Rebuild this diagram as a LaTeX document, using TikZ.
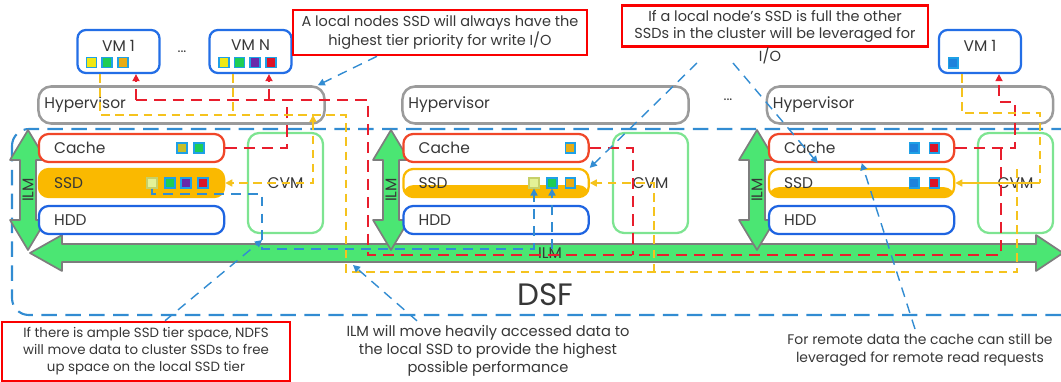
\documentclass[tikz,border=0pt]{standalone}
\usepackage{fontspec}
\setmainfont{Poppins}
\usetikzlibrary{calc,arrows.meta}

\begin{document}
\begin{tikzpicture}[x=0.025cm, y=-0.025cm]
  % Definir colores
  \definecolor{vmblue}{RGB}{35,110,230}
  \definecolor{cachered}{RGB}{240,70,40}
  \definecolor{ssdorange}{RGB}{250,185,0}
  \definecolor{hddblue}{RGB}{30,100,225}
  \definecolor{cvmgreen}{RGB}{125,228,145}
  \definecolor{hypgray}{RGB}{155,155,155}
  \definecolor{arrowgreen}{RGB}{75,230,115}
  \definecolor{arrowgray}{RGB}{125,125,125}
  \definecolor{dsfblue}{RGB}{50,140,210}
  \definecolor{writered}{RGB}{232,30,45}
  \definecolor{readyellow}{RGB}{245,195,30}
  \definecolor{notered}{RGB}{250,0,0}
  \definecolor{txtgray}{RGB}{55,55,55}
  \definecolor{sqborder}{RGB}{30,160,230}
  \definecolor{sqyellow}{RGB}{240,232,20}
  \definecolor{sqgreen}{RGB}{30,205,85}
  \definecolor{sqorange}{RGB}{232,172,20}
  \definecolor{sqolive}{RGB}{200,190,40}
  \definecolor{sqpurple}{RGB}{105,40,170}
  \definecolor{sqred}{RGB}{220,20,40}
  \definecolor{sqblue}{RGB}{30,130,220}
  \definecolor{sqfaded}{RGB}{228,242,150}

  % Configurar estilo de nodos
  \tikzset{
    vm/.style={draw=vmblue, line width=1.6pt, rounded corners=6pt, fill=white, minimum width=2.05cm, minimum height=1.075cm, text depth=0.3cm, text=txtgray, font=\fontsize{11}{13}\selectfont},
    hyp/.style={draw=hypgray, line width=1.8pt, rounded corners=9pt, minimum height=0.925cm, text width=6.85cm, inner xsep=0.15cm, align=left, text=txtgray, font=\fontsize{11}{13}\selectfont},
    tier/.style={rounded corners=7pt, line width=1.6pt, fill=white, minimum height=0.7cm, text width=3.87cm, inner xsep=0.38cm, align=left, text=txtgray, font=\fontsize{11}{13}\selectfont},
    cvm/.style={draw=cvmgreen, line width=1.6pt, rounded corners=8pt, minimum width=1.875cm, minimum height=2.5cm, text=txtgray, font=\fontsize{11}{13}\selectfont},
    sq/.style={draw=sqborder, line width=1pt, minimum size=0.24cm, inner sep=0pt},
    note/.style={draw=notered, line width=1.8pt, align=center, text=txtgray, font=\fontsize{10.3}{12.2}\selectfont},
    plain/.style={align=center, text=txtgray, font=\fontsize{10.4}{12.6}\selectfont},
    bigarrow/.style={fill=arrowgreen, draw=arrowgray, line width=1.2pt, line join=round},
    ilmtxt/.style={text=txtgray, font=\fontsize{11}{13}\selectfont},
    wr/.style={draw=writered, line width=1.1pt, dash pattern=on 8pt off 5pt},
    rd/.style={draw=readyellow, line width=1pt, dash pattern=on 6pt off 4pt},
    bl/.style={draw=dsfblue, line width=1pt, dash pattern=on 7pt off 5pt},
    tip/.style={-{Triangle[length=5pt,width=5pt]}}
  }

  \useasboundingbox (0,0) rectangle (1061,382);
  \clip (0,0) rectangle (1061,382);

  % Zona DSF
  \draw[dsfblue, line width=1.5pt, dash pattern=on 11pt off 6pt, rounded corners=12pt] (12,129) rectangle (1090,315);
  \node[text=txtgray, font=\fontsize{22}{26}\selectfont] (dsf) at (545,295) {DSF};

  % Flechas ILM
  \filldraw[bigarrow] (30,253) -- (62,235) -- (62,244) -- (1036,244) -- (1036,235) -- (1063,253) -- (1036,271) -- (1036,262) -- (62,262) -- (62,271) -- cycle;
  \filldraw[bigarrow] (28,130) -- ++(18,30) -- ++(-10,0) -- ++(0,60) -- ++(10,0) -- ++(-18,30) -- ++(-18,-30) -- ++(10,0) -- ++(0,-60) -- ++(-10,0) -- cycle;
  \filldraw[bigarrow] (391,130) -- ++(18,30) -- ++(-10,0) -- ++(0,60) -- ++(10,0) -- ++(-18,30) -- ++(-18,-30) -- ++(10,0) -- ++(0,-60) -- ++(-10,0) -- cycle;
  \filldraw[bigarrow] (757,130) -- ++(18,30) -- ++(-10,0) -- ++(0,60) -- ++(10,0) -- ++(-18,30) -- ++(-18,-30) -- ++(10,0) -- ++(0,-60) -- ++(-10,0) -- cycle;
  \node[ilmtxt, rotate=90] (ilmA) at (28,190) {ILM};
  \node[ilmtxt, rotate=90] (ilmB) at (391,190) {ILM};
  \node[ilmtxt, rotate=90] (ilmC) at (757,190) {ILM};
  \node[ilmtxt] (ilmH) at (550,253) {ILM};

  % Maquinas virtuales
  \node[vm] (vmA) at (118.5,51.5) {VM 1};
  \node[vm] (vmN) at (250.5,51.5) {VM N};
  \node[vm] (vmR) at (980,51.5) {VM 1};
  \node[text=txtgray] (dotsA) at (182,52) {...};

  % Hipervisores
  \node[hyp] (hypA) at (181.5,105) {Hypervisor};
  \node[hyp] (hypB) at (545.5,105) {Hypervisor};
  \node[hyp] (hypC) at (910,105) {Hypervisor};
  \node[text=txtgray] (dotsB) at (728,100) {...};

  % Niveles de almacenamiento
  \node[tier, draw=cachered] (cacheA) at (131.5,148) {Cache};
  \node[tier, draw=ssdorange, fill=ssdorange] (ssdA) at (131.5,183) {SSD};
  \node[tier, draw=hddblue] (hddA) at (131.5,220) {HDD};
  \node[tier, draw=cachered] (cacheB) at (496,148) {Cache};
  \node[tier, draw=ssdorange, path picture={\fill[ssdorange] ([yshift=-1.5pt]path picture bounding box.west) rectangle (path picture bounding box.south east);}] (ssdB) at (496,183) {SSD};
  \node[tier, draw=hddblue] (hddB) at (496,220) {HDD};
  \node[tier, draw=cachered] (cacheC) at (861.5,148) {Cache};
  \node[tier, draw=ssdorange, path picture={\fill[ssdorange] ([yshift=-3pt]path picture bounding box.west) rectangle (path picture bounding box.south east);}] (ssdC) at (861.5,183) {SSD};
  \node[tier, draw=hddblue] (hddC) at (861.5,220) {HDD};

  % CVM
  \node[cvm] (cvmA) at (285.5,183) {CVM};
  \node[cvm] (cvmB) at (650.5,183) {CVM};
  \node[cvm] (cvmC) at (1015.5,183) {CVM};

  % Escrituras (rojo)
  \coordinate (wA) at (136,100);
  \coordinate (wN) at (269,100);
  \coordinate (wL) at (287,100);
  \coordinate (rA) at (368,100);
  \coordinate (rB) at (368,255);
  \coordinate (rC) at (1001,255);
  \coordinate (rD) at (1015,102);
  \coordinate (rE) at (633,255);
  \draw[wr, tip, writered] (wA) -- (wA |- vmA.south);
  \draw[wr, tip, writered] (wN) -- (wN |- vmN.south);
  \draw[wr] (wA) -- (rA) -- (rB) -- (rC) -- (rC |- cacheC.east);
  \draw[wr] (cacheA.east) -| (wL);
  \draw[wr] (cacheB.east) -| (rE);
  \draw[wr, tip, writered] (cacheC.east) -| (rD) -| ($(vmR.south)+(19,0)$);

  % Lecturas (amarillo)
  \coordinate (yA) at (100,115);
  \coordinate (yN) at (233,115);
  \coordinate (yB) at (346,115);
  \coordinate (yC) at (346,272);
  \coordinate (yD) at (1017,272);
  \coordinate (yE) at (1017,167);
  \coordinate (yU) at (313,115);
  \coordinate (yF) at (654,272);
  \coordinate (yR) at (962,113);
  \coordinate (yG) at (1040,113);
  \draw[rd] (vmA.south -| yA) -- (yA) -- (yB) -- (yC) -- (yD) -- (yE);
  \draw[rd] (vmN.south -| yN) -- (yN);
  \draw[rd, readyellow, {Triangle[length=5pt,width=5pt]}-{Triangle[length=5pt,width=5pt]}] (yU) -- (yU |- ssdA.east) -- (ssdA.east);
  \draw[rd, tip, readyellow] (yF) -- (yF |- ssdB.east) -- (ssdB.east);
  \draw[rd] (vmR.south -| yR) -- (yR) -- (yG) -- (yG |- ssdC.east);
  \draw[readyellow, line width=1pt, tip] (yG |- ssdC.east) -- (ssdC.east);

  % Bloques de datos
  \node[sq, fill=sqyellow] (vA1) at (91.5,62.5) {};
  \node[sq, fill=sqgreen] (vA2) at (107,62.5) {};
  \node[sq, fill=sqorange] (vA3) at (123,62.5) {};
  \node[sq, fill=sqyellow] (vN1) at (224,62.5) {};
  \node[sq, fill=sqgreen] (vN2) at (239.5,62.5) {};
  \node[sq, fill=sqpurple] (vN3) at (255,62.5) {};
  \node[sq, fill=sqred] (vN4) at (271,62.5) {};
  \node[sq, fill=sqblue] (vR1) at (953,63) {};
  \node[sq, fill=sqolive] (cA1) at (182,148) {};
  \node[sq, fill=sqgreen] (cA2) at (199,148) {};
  \node[sq, draw=sqfaded!70!olive, fill=sqfaded] (sA1) at (152,183) {};
  \node[sq, fill=sqgreen] (sA2) at (170,183) {};
  \node[sq, fill=sqpurple] (sA3) at (186,183) {};
  \node[sq, fill=sqred] (sA4) at (203,183) {};
  \node[sq, fill=sqorange] (cB1) at (570,148) {};
  \node[sq, draw=sqfaded!70!olive, fill=sqfaded] (sB1) at (534,183) {};
  \node[sq, fill=sqgreen] (sB2) at (552,183) {};
  \node[sq, fill=sqorange] (sB3) at (570,183) {};
  \node[sq, fill=sqblue] (cC1) at (914,148) {};
  \node[sq, fill=sqred] (cC2) at (934,148) {};
  \node[sq, fill=sqblue] (sC1) at (914,183) {};
  \node[sq, fill=sqred] (sC2) at (934,183) {};

  % Movimiento ILM (azul)
  \coordinate (bA) at (262,194);
  \coordinate (bB) at (262,249);
  \draw[bl, tip, dsfblue] (sA1.south) |- (bA) -- (bB) -| (sB1.south);
  \draw[bl, tip, dsfblue] (bB -| sB2.south) -- (sB2.south);

  % Notas
  \node[note, minimum width=7.35cm, minimum height=1.125cm] (note1) at (440,32.5) {A local nodes SSD will always have the\\highest tier priority for write I/O};
  \node[note, minimum width=7.65cm, minimum height=0.95cm] (note2) at (775,26) {If a local node's SSD is full the other\\SSDs in the cluster will be leveraged for};
  \node[plain] (note2b) at (770,56) {I/O};
  \node[note, font=\fontsize{9.5}{12}\selectfont, minimum width=7.2cm, minimum height=1.475cm] (note3) at (146,351.5) {If there is ample SSD tier space, NDFS\\will move data to cluster SSDs to free\\up space on the local SSD tier};
  \node[plain] (note4) at (488,351) {ILM will move heavily accessed data to\\the local SSD to provide the highest\\possible performance};
  \node[plain, font=\fontsize{9.9}{12.6}\selectfont] (note5) at (920,350) {For remote data the cache can still be\\leveraged for remote read requests};

  % Lineas de las notas
  \coordinate (n2a) at (697,63);
  \coordinate (n2b) at (733,63);
  \coordinate (nT) at (353,265);
  \draw[bl, tip, dsfblue] ($(note1.south)+(-63,0)$) -- ($(hypA.north east)+(-8,0)$);
  \draw[bl, tip, dsfblue] (n2a) -- (ssdB.north east);
  \draw[bl, tip, dsfblue] (n2b) -- ($(cacheC.south west)+(50,0)$);
  \draw[bl, tip, dsfblue] ($(note3.north)+(19,0)$) -- ($(bB)+(0,-9)$);
  \draw[bl, tip, dsfblue] ($(note4.north)+(-71,0)$) -- (nT);
  \draw[bl, tip, dsfblue] ($(note5.north)+(-5,0)$) -- ($(cacheC.south west)+(94,0)$);
\end{tikzpicture}
\end{document}
